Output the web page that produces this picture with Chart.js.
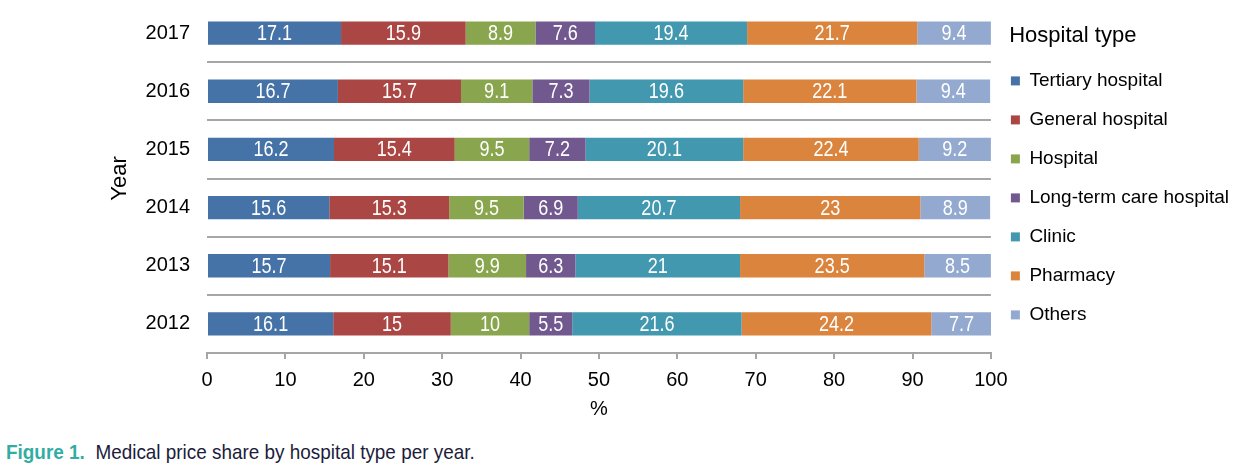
<!DOCTYPE html>
<html>
<head>
<meta charset="utf-8">
<script src="https://cdn.jsdelivr.net/npm/chart.js@4"></script>
<style>
  html, body { margin: 0; padding: 0; background: #fff; }
  #wrap { position: absolute; left: 0; top: 0; width: 1254px; height: 425px; }
  #caption {
    position: absolute; left: 6px; top: 440px;
    font-family: 'Liberation Sans', Arial, sans-serif;
    font-size: 21px; color: #1c1c3c; white-space: nowrap;
    transform: scaleX(0.9); transform-origin: left top;
  }
  #caption b { color: #33ada3; margin-right: 6px; }
</style>
</head>
<body>
<div id="wrap"><canvas id="chart"></canvas></div>
<div id="caption"><b>Figure 1.</b> Medical price share by hospital type per year.</div>
<script>
// Data
const years = ['2017', '2016', '2015', '2014', '2013', '2012'];
const hospitalTypes = ['Tertiary hospital', 'General hospital', 'Hospital', 'Long-term care hospital', 'Clinic', 'Pharmacy', 'Others'];
const tertiary = [17.1, 16.7, 16.2, 15.6, 15.7, 16.1];
const general = [15.9, 15.7, 15.4, 15.3, 15.1, 15];
const hospital = [8.9, 9.1, 9.5, 9.5, 9.9, 10];
const longTerm = [7.6, 7.3, 7.2, 6.9, 6.3, 5.5];
const clinic = [19.4, 19.6, 20.1, 20.7, 21, 21.6];
const pharmacy = [21.7, 22.1, 22.4, 23, 23.5, 24.2];
const others = [9.4, 9.4, 9.2, 8.9, 8.5, 7.7];
const xTicks = [0, 10, 20, 30, 40, 50, 60, 70, 80, 90, 100];

// Colours
const colors = ['#4572A7', '#AA4643', '#89A54E', '#71588F', '#4198AF', '#DB843D', '#93A9CF'];

const SANS = "'Liberation Sans', Arial, sans-serif";

const seriesValues = [tertiary, general, hospital, longTerm, clinic, pharmacy, others];

// White value labels in the middle of each segment (squeezed a little, like the original)
const valueLabels = {
    id: 'valueLabels',
    afterDatasetsDraw(chart) {
        const ctx = chart.ctx;
        chart.data.datasets.forEach((ds, i) => {
            const meta = chart.getDatasetMeta(i);
            meta.data.forEach((bar, j) => {
                const p = bar.getProps(['x', 'y', 'base'], true);
                ctx.save();
                ctx.translate((p.x + p.base) / 2, p.y + 1);
                ctx.scale(0.82, 1);
                ctx.fillStyle = '#fff';
                ctx.font = '22px ' + SANS;
                ctx.textAlign = 'center';
                ctx.textBaseline = 'middle';
                ctx.fillText(String(ds.data[j]), 0, 0);
                ctx.restore();
            });
        });
    }
};

new Chart(document.getElementById('chart'), {
    type: 'bar',
    data: {
        labels: years,
        datasets: hospitalTypes.map((name, i) => ({
            label: name,
            data: seriesValues[i],
            backgroundColor: colors[i],
            borderWidth: 0,
            categoryPercentage: 1,
            barPercentage: 0.4
        }))
    },
    options: {
        indexAxis: 'y',
        responsive: true,
        maintainAspectRatio: false,
        animation: false,
        layout: { padding: { top: 4, right: 15, left: 0, bottom: 0 } },
        scales: {
            x: {
                stacked: true,
                min: 0,
                max: 100,
                afterBuildTicks(scale) {
                    scale.ticks = xTicks.map(v => ({ value: v }));
                },
                afterFit(scale) { scale.height = 72; },
                grid: {
                    drawOnChartArea: false,
                    drawTicks: true,
                    tickLength: 6,
                    color: '#a6a6a6',
                    lineWidth: 2
                },
                border: { display: true, color: '#a6a6a6', width: 2 },
                ticks: {
                    color: '#000',
                    padding: 9,
                    font: { family: SANS, size: 20 }
                },
                title: {
                    display: true,
                    text: '%',
                    color: '#000',
                    padding: { top: 0, bottom: 4 },
                    font: { family: SANS, size: 20 }
                }
            },
            y: {
                stacked: true,
                afterFit(scale) {
                    scale.width = 207;
                    scale.paddingTop = 0;
                    scale.paddingBottom = 0;
                },
                grid: {
                    offset: true,
                    drawTicks: false,
                    lineWidth: 2,
                    color: ctx => (ctx.index === 0 ? 'rgba(0,0,0,0)' : '#a6a6a6')
                },
                border: { display: false },
                ticks: {
                    color: '#000',
                    padding: 17,
                    font: { family: SANS, size: 20 }
                },
                title: {
                    display: true,
                    text: 'Year',
                    color: '#000',
                    padding: { top: 107, bottom: 0 },
                    font: { family: SANS, size: 22 }
                }
            }
        },
        plugins: {
            tooltip: { enabled: false },
            legend: {
                position: 'right',
                align: 'start',
                title: {
                    display: true,
                    text: '   Hospital type',
                    position: 'start',
                    color: '#000',
                    padding: { top: 21, bottom: 0 },
                    font: { family: SANS, size: 22 }
                },
                labels: {
                    boxWidth: 9,
                    boxHeight: 9,
                    padding: 20,
                    color: '#000',
                    font: { family: SANS, size: 19 }
                }
            }
        }
    },
    plugins: [valueLabels]
});
</script>
</body>
</html>
